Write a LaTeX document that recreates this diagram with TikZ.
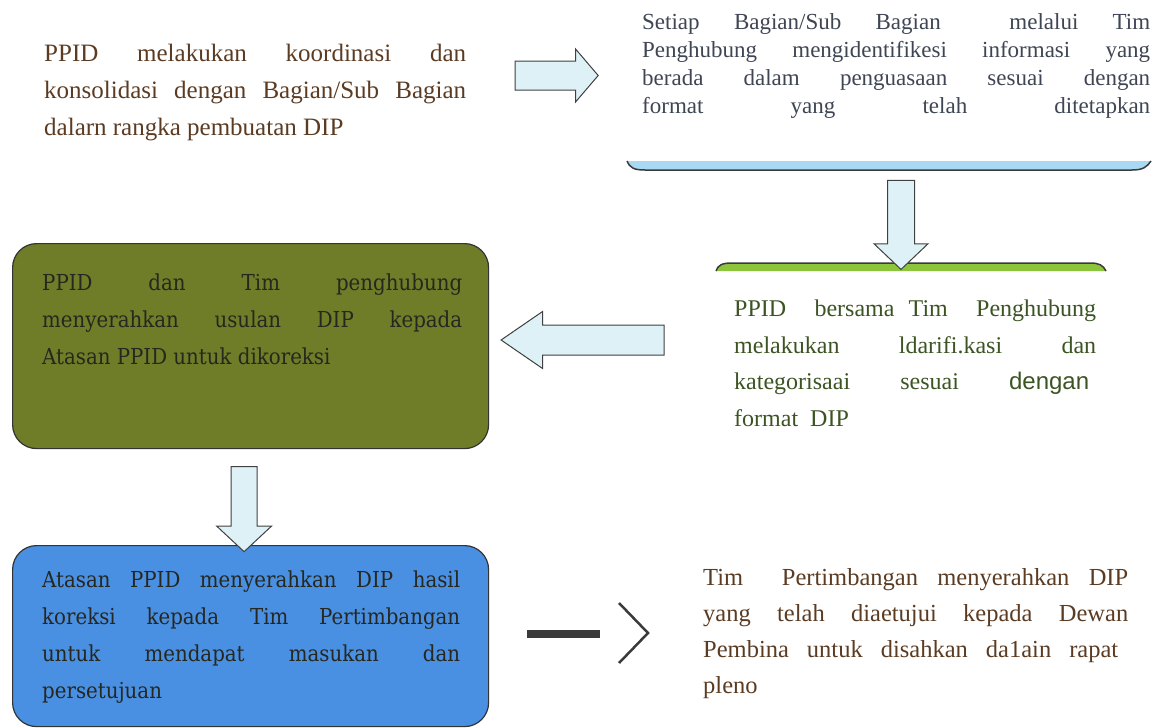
\documentclass[tikz,border=0pt]{standalone}
\usepackage{fontspec}
\setmainfont{Liberation Serif}
\setsansfont{Liberation Sans}
\newfontfamily\scanfont{DejaVu Serif Condensed}
\usepackage{tikz}
\usetikzlibrary{shapes.arrows,positioning,calc}
\newlength{\jw}
\newcommand{\setjw}[1]{\setlength{\jw}{#1}\spaceskip=0pt\xspaceskip=0pt\relax}
\newcommand{\jline}[1]{\makebox[\jw][s]{#1}\\}

\definecolor{brownink}{HTML}{5B3B22}
\definecolor{oliveink}{HTML}{3C5423}
\definecolor{greyink}{HTML}{3E4553}
\definecolor{boxink}{HTML}{26271F}
\definecolor{olivebox}{HTML}{6F7D28}
\definecolor{bluebox}{HTML}{4A90E2}
\definecolor{paleblue}{HTML}{DDF1F7}
\definecolor{barblue}{HTML}{A8D8F2}
\definecolor{bargreen}{HTML}{8CC43C}
\definecolor{darkgrey}{HTML}{3A3A3A}

\tikzset{
  flowtext/.style={inner sep=0pt, anchor=north west, align=left},
  stepbox/.style={draw=black!80, line width=1.2pt, rounded corners=24pt, anchor=north west, inner sep=0pt},
  fatarrow/.style={shape=single arrow, draw=black!75, line width=1pt, fill=paleblue,
    inner xsep=0pt, single arrow head indent=0pt, minimum width=0pt}
}

\begin{document}
\begin{tikzpicture}[x=1pt,y=-1pt]
\useasboundingbox (0,0) rectangle (1154,728);

% texts without a box
\node[flowtext, text width=422pt, text=brownink, font=\fontsize{25}{37}\selectfont] (koord) at (44,43.9) {%
  \setjw{422pt}%
  \jline{PPID melakukan koordinasi dan}
  \jline{konsolidasi dengan Bagian/Sub Bagian}
  dalarn rangka pembuatan DIP};
\node[flowtext, text width=508pt, text=greyink, font=\fontsize{23}{28}\selectfont] (identif) at (642,13.3) {%
  \setjw{508pt}%
  \jline{Setiap Bagian/Sub Bagian\ \ melalui Tim}
  \jline{Penghubung mengidentifikesi informasi yang}
  \jline{berada dalam penguasaan sesuai dengan}
  \makebox[\jw][s]{format yang telah ditetapkan}};
\node[flowtext, text width=362pt, text=oliveink, font=\fontsize{24}{36.7}\selectfont] (klasif) at (734,299.6) {%
  \setjw{362pt}%
  \jline{PPID\ \ bersama Tim\ \ Penghubung}
  \jline{melakukan ldarifi.kasi dan}
  \jline{kategorisaai sesuai {\sffamily dengan}\hspace{7pt}}
  format\ \ DIP};
\node[flowtext, text width=425pt, text=brownink, font=\fontsize{24.5}{36}\selectfont] (pleno) at (703,568.3) {%
  \setjw{425pt}%
  \jline{Tim\ \ Pertimbangan menyerahkan DIP}
  \jline{yang telah diaetujui kepada Dewan}
  \jline{Pembina untuk disahkan da1ain rapat\hspace{10pt}}
  pleno};

% partly hidden boxes
\filldraw[fill=barblue, draw=darkgrey, line width=1.5pt]
  (627,161) .. controls (630,168) and (634,170) .. (645,170)
  -- (1132,170) .. controls (1143,170) and (1147,167) .. (1151,161);
\filldraw[fill=bargreen, draw=darkgrey, line width=1.5pt]
  (716,271) .. controls (718,265) and (722,263) .. (732,263)
  -- (1090,263) .. controls (1099,263) and (1103,265) .. (1106,271);
\coordinate (barB) at (901,174);
\coordinate (barG) at (901,263);

% boxes
\node[stepbox, fill=olivebox, minimum width=476pt, minimum height=205pt] (usul) at (12,243) {};
\node[stepbox, fill=bluebox, minimum width=476pt, minimum height=181pt] (atasan) at (12,545) {};
\node[flowtext, text width=420pt, text=boxink, font=\scanfont\fontsize{22}{37}\selectfont] (usultxt) at (42,273.3) {%
  \setjw{420pt}%
  \jline{PPID dan Tim penghubung}
  \jline{menyerahkan usulan DIP kepada}
  Atasan PPID untuk dikoreksi};
\node[flowtext, text width=418pt, text=boxink, font=\scanfont\fontsize{22}{37}\selectfont] (atasantxt) at (42,570.3) {%
  \setjw{418pt}%
  \jline{Atasan PPID menyerahkan DIP hasil}
  \jline{koreksi kepada Tim Pertimbangan}
  \jline{untuk mendapat masukan dan}
  persetujuan};
\path (usul.south) ++(-6.5,12) coordinate (dnTop);
\path (atasan.north) ++(-6.5,0) coordinate (dnBot);

% block arrows
\node[fatarrow, minimum height=83pt, inner ysep=14pt, single arrow head extend=12pt,
  single arrow tip angle=99] (ke1) at (550.5,75.5) {};
\node[fatarrow, rotate=-90, minimum height=89pt, inner ysep=13pt, single arrow head extend=13.5pt,
  single arrow tip angle=93] (ke2) at ($(barB)!0.5!(barG)$) {};
\node[fatarrow, rotate=180, minimum height=163pt, inner ysep=14.5pt, single arrow head extend=13.5pt,
  single arrow tip angle=69] (ke3) at (593.5,340) {};
\node[fatarrow, rotate=-90, minimum height=85pt, inner ysep=12.5pt, single arrow head extend=14.5pt,
  single arrow tip angle=94] (ke4) at ($(dnTop)!0.5!(dnBot)$) {};

% dash and chevron
\coordinate (dashL) at (527,634);
\coordinate (dashR) at (600,634);
\coordinate (chevT) at (619,603);
\coordinate (chevP) at (648,633);
\coordinate (chevB) at (619,663);
\draw[darkgrey, line width=8pt] (dashL) -- (dashR);
\draw[darkgrey, line width=2.5pt] (chevT) -- (chevP) -- (chevB);
\end{tikzpicture}
\end{document}
